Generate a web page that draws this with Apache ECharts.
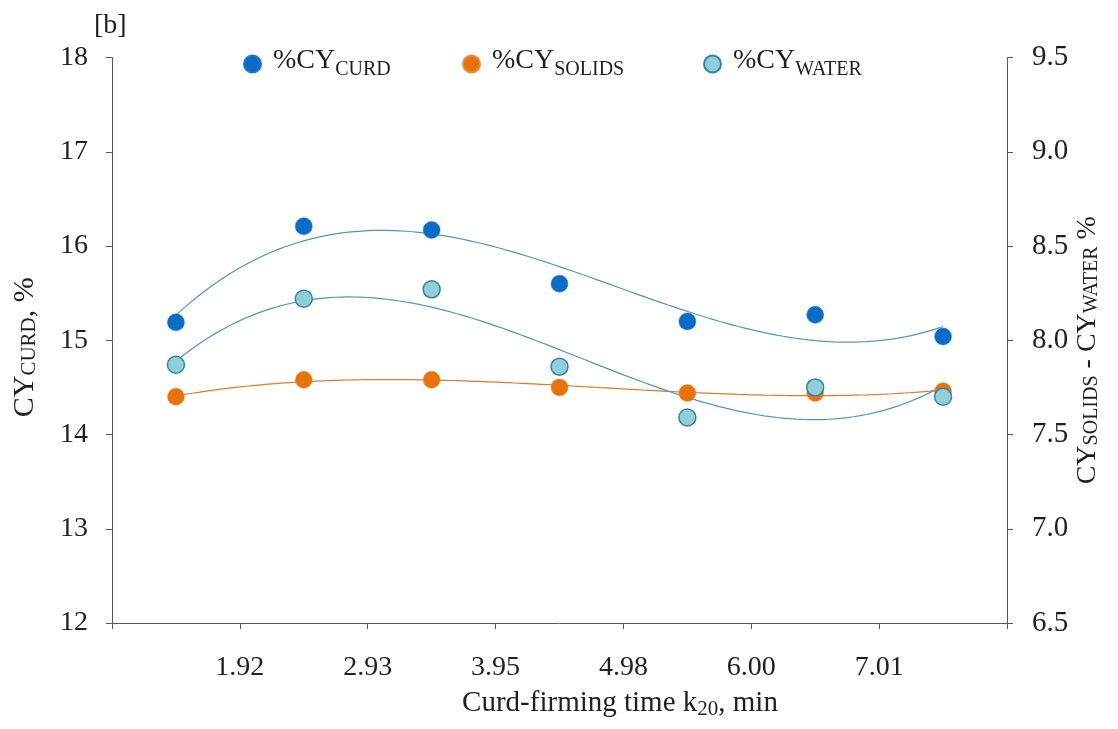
<!DOCTYPE html>
<html><head><meta charset="utf-8">
<script src="https://cdn.jsdelivr.net/npm/echarts@6/dist/echarts.min.js"></script>
<style>html,body{margin:0;padding:0;background:#fff}#c{width:1118px;height:729px}</style>
</head><body><div id="c"></div>
<script>
// ---- data ----
const tickLabels = ['', '1.92', '2.93', '3.95', '4.98', '6.00', '7.01', ''];
const curd   = [15.19, 16.21, 16.17, 15.60, 15.20, 15.27, 15.04];
const solids = [7.70, 7.79, 7.79, 7.75, 7.72, 7.72, 7.73];
const water  = [7.87, 8.22, 8.27, 7.86, 7.59, 7.75, 7.70];

const FONT = 'Liberation Serif';
const TXT = '#1f1f1f';

// each point sits in the middle of its category slot
const xs = curd.map((_, i) => i + 0.5);
const pts = arr => arr.map((v, i) => [xs[i], v]);

// cubic least-squares trend line (as in the source chart)
function polyFit(x, y, deg) {
  const n = deg + 1;
  const A = Array.from({length: n}, () => new Array(n + 1).fill(0));
  for (let r = 0; r < n; r++) {
    for (let c = 0; c < n; c++) A[r][c] = x.reduce((s, xi) => s + Math.pow(xi, r + c), 0);
    A[r][n] = x.reduce((s, xi, k) => s + y[k] * Math.pow(xi, r), 0);
  }
  for (let i = 0; i < n; i++) {
    let p = i;
    for (let k = i + 1; k < n; k++) if (Math.abs(A[k][i]) > Math.abs(A[p][i])) p = k;
    [A[i], A[p]] = [A[p], A[i]];
    for (let k = i + 1; k < n; k++) {
      const f = A[k][i] / A[i][i];
      for (let c = i; c <= n; c++) A[k][c] -= f * A[i][c];
    }
  }
  const b = new Array(n).fill(0);
  for (let i = n - 1; i >= 0; i--) {
    let s = A[i][n];
    for (let c = i + 1; c < n; c++) s -= A[i][c] * b[c];
    b[i] = s / A[i][i];
  }
  return b;
}
function trend(arr) {
  const b = polyFit(xs, arr, 3);
  const out = [];
  const x0 = xs[0], x1 = xs[xs.length - 1];
  for (let k = 0; k <= 120; k++) {
    const x = x0 + (x1 - x0) * k / 120;
    out.push([x, b.reduce((s, bi, i) => s + bi * Math.pow(x, i), 0)]);
  }
  return out;
}

function rich(main, sub, lh, padLeft) {
  return {
    m: {fontFamily: FONT, fontSize: main, color: TXT, padding: [0, 0, 0, padLeft || 0]},
    s: {fontFamily: FONT, fontSize: sub, color: TXT, lineHeight: lh, verticalAlign: 'bottom'}
  };
}
const legendRich = {
  m: {fontFamily: FONT, fontSize: 28, color: TXT, lineHeight: 31, padding: [0, 0, 6, 7]},
  s: {fontFamily: FONT, fontSize: 20, color: TXT, lineHeight: 31, verticalAlign: 'bottom'}
};

const chart = echarts.init(document.getElementById('c'));
const axisLine = {show: true, lineStyle: {color: '#595959', width: 1}};
const axisTick = {show: true, length: 6, lineStyle: {color: '#595959'}};

function legendFor(name, left) {
  return {
    data: [name], left: left, top: 42, itemWidth: 17, itemHeight: 17, icon: 'circle',
    selectedMode: false,
    formatter: n => '{m|%CY}{s|' + n + '}',
    textStyle: {rich: legendRich}
  };
}

chart.setOption({
  animation: false,
  backgroundColor: '#fff',
  grid: {left: 112, right: 111, top: 57.5, bottom: 106},
  legend: [legendFor('CURD', 238), legendFor('SOLIDS', 457), legendFor('WATER', 698)],
  graphic: [{type: 'text', left: 94, top: 12, style: {text: '[b]', font: '28px "' + FONT + '"', fill: TXT}}],
  xAxis: {
    type: 'value', min: 0, max: 7, interval: 1,
    axisLine: axisLine, axisTick: axisTick,
    splitLine: {show: false},
    axisLabel: {formatter: v => tickLabels[v] || '', fontFamily: FONT, fontSize: 28, color: TXT, margin: 31},
    name: '{m|Curd-firming time k}{s|20}{m|, min}',
    nameLocation: 'middle', nameGap: 63,
    nameTextStyle: {rich: rich(29, 21, 34), padding: [0, 0, 0, 121]}
  },
  yAxis: [{
    type: 'value', min: 12, max: 18, interval: 1, position: 'left',
    axisLine: axisLine, axisTick: axisTick,
    splitLine: {show: false},
    axisLabel: {fontFamily: FONT, fontSize: 28, color: TXT, margin: 24},
    name: '{m|CY}{s|CURD}{m|, %}', nameLocation: 'middle', nameRotate: 90, nameGap: 72,
    nameMoveOverlap: false,
    nameTextStyle: {rich: rich(30, 21, 30), padding: [0, 14, 0, 0]}
  }, {
    type: 'value', min: 6.5, max: 9.5, interval: 0.5, position: 'right',
    axisLine: axisLine, axisTick: axisTick,
    splitLine: {show: false},
    axisLabel: {formatter: v => v.toFixed(1), fontFamily: FONT, fontSize: 29, color: TXT, margin: 25},
    name: '{m|CY}{s|SOLIDS}{m| - CY}{s|WATER}{m| %}', nameLocation: 'middle', nameRotate: 90, nameGap: 67,
    nameMoveOverlap: false,
    nameTextStyle: {rich: rich(28, 20, 28), padding: [0, 20, 0, 0]}
  }],
  series: [
    {type: 'line', name: 'tCurd', data: trend(curd), yAxisIndex: 0, showSymbol: false, symbol: 'none',
     lineStyle: {color: '#4f97b8', width: 1.2}, z: 1, silent: true},
    {type: 'line', name: 'tSolids', data: trend(solids), yAxisIndex: 1, showSymbol: false, symbol: 'none',
     lineStyle: {color: '#e07a2c', width: 1.2}, z: 1, silent: true},
    {type: 'line', name: 'tWater', data: trend(water), yAxisIndex: 1, showSymbol: false, symbol: 'none',
     lineStyle: {color: '#4f97b8', width: 1.2}, z: 1, silent: true},
    {type: 'scatter', name: 'CURD', data: pts(curd), yAxisIndex: 0, symbolSize: 17,
     itemStyle: {color: '#0a6cc6', borderColor: '#1a78cc', borderWidth: 0.5, opacity: 1}, z: 3},
    {type: 'scatter', name: 'SOLIDS', data: pts(solids), yAxisIndex: 1, symbolSize: 17,
     itemStyle: {color: '#e8720c', borderColor: '#ee8a3a', borderWidth: 0.5, opacity: 1}, z: 3},
    {type: 'scatter', name: 'WATER', data: pts(water), yAxisIndex: 1, symbolSize: 17,
     itemStyle: {color: '#92cddc', borderColor: '#31859c', borderWidth: 1.5, opacity: 1}, z: 4}
  ]
});
</script>
</body></html>
